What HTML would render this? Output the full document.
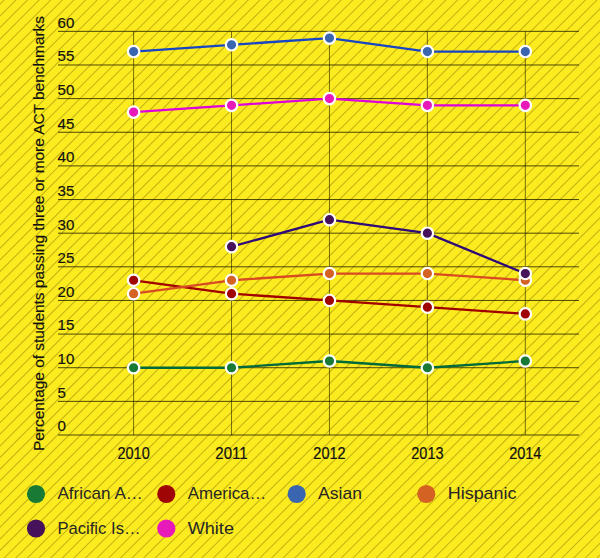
<!DOCTYPE html>
<html><head><meta charset="utf-8"><style>
html,body{margin:0;padding:0;background:#FCEB1F;}
svg{display:block;}
text{font-family:"Liberation Sans",sans-serif;stroke-width:0.2px;paint-order:stroke;}
.k{fill:#111;stroke:#111;}
.l{fill:#262626;stroke:none;}
</style></head><body>
<svg width="600" height="558" viewBox="0 0 600 558">
<rect width="600" height="558" fill="#FCEB1F"/>
<defs><filter id="sb" x="0" y="0" width="1" height="1"><feGaussianBlur stdDeviation="0.4"/></filter></defs>
<path d="M6.30 -2L-555.70 560M17.92 -2L-544.08 560M29.54 -2L-532.46 560M41.17 -2L-520.83 560M52.79 -2L-509.21 560M64.41 -2L-497.59 560M76.03 -2L-485.97 560M87.65 -2L-474.35 560M99.28 -2L-462.72 560M110.90 -2L-451.10 560M122.52 -2L-439.48 560M134.14 -2L-427.86 560M145.76 -2L-416.24 560M157.39 -2L-404.61 560M169.01 -2L-392.99 560M180.63 -2L-381.37 560M192.25 -2L-369.75 560M203.87 -2L-358.13 560M215.50 -2L-346.50 560M227.12 -2L-334.88 560M238.74 -2L-323.26 560M250.36 -2L-311.64 560M261.98 -2L-300.02 560M273.61 -2L-288.39 560M285.23 -2L-276.77 560M296.85 -2L-265.15 560M308.47 -2L-253.53 560M320.09 -2L-241.91 560M331.72 -2L-230.28 560M343.34 -2L-218.66 560M354.96 -2L-207.04 560M366.58 -2L-195.42 560M378.20 -2L-183.80 560M389.83 -2L-172.17 560M401.45 -2L-160.55 560M413.07 -2L-148.93 560M424.69 -2L-137.31 560M436.31 -2L-125.69 560M447.94 -2L-114.06 560M459.56 -2L-102.44 560M471.18 -2L-90.82 560M482.80 -2L-79.20 560M494.42 -2L-67.58 560M506.05 -2L-55.95 560M517.67 -2L-44.33 560M529.29 -2L-32.71 560M540.91 -2L-21.09 560M552.53 -2L-9.47 560M564.16 -2L2.16 560M575.78 -2L13.78 560M587.40 -2L25.40 560M599.02 -2L37.02 560M610.64 -2L48.64 560M622.27 -2L60.27 560M633.89 -2L71.89 560M645.51 -2L83.51 560M657.13 -2L95.13 560M668.75 -2L106.75 560M680.38 -2L118.38 560M692.00 -2L130.00 560M703.62 -2L141.62 560M715.24 -2L153.24 560M726.86 -2L164.86 560M738.49 -2L176.49 560M750.11 -2L188.11 560M761.73 -2L199.73 560M773.35 -2L211.35 560M784.97 -2L222.97 560M796.60 -2L234.60 560M808.22 -2L246.22 560M819.84 -2L257.84 560M831.46 -2L269.46 560M843.08 -2L281.08 560M854.71 -2L292.71 560M866.33 -2L304.33 560M877.95 -2L315.95 560M889.57 -2L327.57 560M901.19 -2L339.19 560M912.82 -2L350.82 560M924.44 -2L362.44 560M936.06 -2L374.06 560M947.68 -2L385.68 560M959.30 -2L397.30 560M970.93 -2L408.93 560M982.55 -2L420.55 560M994.17 -2L432.17 560M1005.79 -2L443.79 560M1017.41 -2L455.41 560M1029.04 -2L467.04 560M1040.66 -2L478.66 560M1052.28 -2L490.28 560M1063.90 -2L501.90 560M1075.52 -2L513.52 560M1087.15 -2L525.15 560M1098.77 -2L536.77 560M1110.39 -2L548.39 560M1122.01 -2L560.01 560M1133.63 -2L571.63 560M1145.26 -2L583.26 560M1156.88 -2L594.88 560" stroke="rgba(120,105,0,0.44)" stroke-width="1.05" fill="none" filter="url(#sb)"/>
<path d="M133.60 31.35V435.00M231.53 31.35V435.00M329.46 31.35V435.00M427.39 31.35V435.00M525.32 31.35V435.00" stroke="rgba(40,35,0,0.62)" stroke-width="1.0" fill="none"/>
<path d="M58 435.00H579M58 401.36H579M58 367.73H579M58 334.09H579M58 300.45H579M58 266.81H579M58 233.18H579M58 199.54H579M58 165.90H579M58 132.26H579M58 98.62H579M58 64.99H579M58 31.35H579" stroke="rgba(25,22,0,0.76)" stroke-width="1.0" fill="none"/>
<text x="57.6" y="431.3" font-size="15.5" class="k" textLength="8.4" lengthAdjust="spacingAndGlyphs">0</text>
<text x="57.6" y="397.7" font-size="15.5" class="k" textLength="8.4" lengthAdjust="spacingAndGlyphs">5</text>
<text x="57.6" y="364.0" font-size="15.5" class="k" textLength="16.8" lengthAdjust="spacingAndGlyphs">10</text>
<text x="57.6" y="330.4" font-size="15.5" class="k" textLength="16.8" lengthAdjust="spacingAndGlyphs">15</text>
<text x="57.6" y="296.8" font-size="15.5" class="k" textLength="16.8" lengthAdjust="spacingAndGlyphs">20</text>
<text x="57.6" y="263.1" font-size="15.5" class="k" textLength="16.8" lengthAdjust="spacingAndGlyphs">25</text>
<text x="57.6" y="229.5" font-size="15.5" class="k" textLength="16.8" lengthAdjust="spacingAndGlyphs">30</text>
<text x="57.6" y="195.8" font-size="15.5" class="k" textLength="16.8" lengthAdjust="spacingAndGlyphs">35</text>
<text x="57.6" y="162.2" font-size="15.5" class="k" textLength="16.8" lengthAdjust="spacingAndGlyphs">40</text>
<text x="57.6" y="128.6" font-size="15.5" class="k" textLength="16.8" lengthAdjust="spacingAndGlyphs">45</text>
<text x="57.6" y="94.9" font-size="15.5" class="k" textLength="16.8" lengthAdjust="spacingAndGlyphs">50</text>
<text x="57.6" y="61.3" font-size="15.5" class="k" textLength="16.8" lengthAdjust="spacingAndGlyphs">55</text>
<text x="57.6" y="27.7" font-size="15.5" class="k" textLength="16.8" lengthAdjust="spacingAndGlyphs">60</text>
<text x="133.6" y="458.6" font-size="15.8" class="k" text-anchor="middle" textLength="32.3" lengthAdjust="spacingAndGlyphs">2010</text>
<text x="231.5" y="458.6" font-size="15.8" class="k" text-anchor="middle" textLength="32.3" lengthAdjust="spacingAndGlyphs">2011</text>
<text x="329.5" y="458.6" font-size="15.8" class="k" text-anchor="middle" textLength="32.3" lengthAdjust="spacingAndGlyphs">2012</text>
<text x="427.4" y="458.6" font-size="15.8" class="k" text-anchor="middle" textLength="32.3" lengthAdjust="spacingAndGlyphs">2013</text>
<text x="525.3" y="458.6" font-size="15.8" class="k" text-anchor="middle" textLength="32.3" lengthAdjust="spacingAndGlyphs">2014</text>
<text transform="translate(43.6,233.5) rotate(-90)" font-size="15.5" class="k" text-anchor="middle" textLength="435" lengthAdjust="spacingAndGlyphs">Percentage of students passing three or more ACT benchmarks</text>
<path d="M133.60 367.73L231.53 367.73L329.46 361.00L427.39 367.73L525.32 361.00" stroke="#006A3A" stroke-width="2.3" fill="none" stroke-linejoin="round"/>
<circle cx="133.60" cy="367.73" r="5.7" fill="#187A34" stroke="#fff" stroke-width="2.2"/>
<circle cx="231.53" cy="367.73" r="5.7" fill="#187A34" stroke="#fff" stroke-width="2.2"/>
<circle cx="329.46" cy="361.00" r="5.7" fill="#187A34" stroke="#fff" stroke-width="2.2"/>
<circle cx="427.39" cy="367.73" r="5.7" fill="#187A34" stroke="#fff" stroke-width="2.2"/>
<circle cx="525.32" cy="361.00" r="5.7" fill="#187A34" stroke="#fff" stroke-width="2.2"/>
<path d="M133.60 280.27L231.53 293.72L329.46 300.45L427.39 307.18L525.32 313.90" stroke="#A00000" stroke-width="2.3" fill="none" stroke-linejoin="round"/>
<circle cx="133.60" cy="280.27" r="5.7" fill="#A00505" stroke="#fff" stroke-width="2.2"/>
<circle cx="231.53" cy="293.72" r="5.7" fill="#A00505" stroke="#fff" stroke-width="2.2"/>
<circle cx="329.46" cy="300.45" r="5.7" fill="#A00505" stroke="#fff" stroke-width="2.2"/>
<circle cx="427.39" cy="307.18" r="5.7" fill="#A00505" stroke="#fff" stroke-width="2.2"/>
<circle cx="525.32" cy="313.90" r="5.7" fill="#A00505" stroke="#fff" stroke-width="2.2"/>
<path d="M133.60 51.53L231.53 44.81L329.46 38.08L427.39 51.53L525.32 51.53" stroke="#1845C4" stroke-width="2.3" fill="none" stroke-linejoin="round"/>
<circle cx="133.60" cy="51.53" r="5.7" fill="#3966AF" stroke="#fff" stroke-width="2.2"/>
<circle cx="231.53" cy="44.81" r="5.7" fill="#3966AF" stroke="#fff" stroke-width="2.2"/>
<circle cx="329.46" cy="38.08" r="5.7" fill="#3966AF" stroke="#fff" stroke-width="2.2"/>
<circle cx="427.39" cy="51.53" r="5.7" fill="#3966AF" stroke="#fff" stroke-width="2.2"/>
<circle cx="525.32" cy="51.53" r="5.7" fill="#3966AF" stroke="#fff" stroke-width="2.2"/>
<path d="M133.60 293.72L231.53 280.27L329.46 273.54L427.39 273.54L525.32 280.27" stroke="#D84A22" stroke-width="2.3" fill="none" stroke-linejoin="round"/>
<circle cx="133.60" cy="293.72" r="5.7" fill="#D46222" stroke="#fff" stroke-width="2.2"/>
<circle cx="231.53" cy="280.27" r="5.7" fill="#D46222" stroke="#fff" stroke-width="2.2"/>
<circle cx="329.46" cy="273.54" r="5.7" fill="#D46222" stroke="#fff" stroke-width="2.2"/>
<circle cx="427.39" cy="273.54" r="5.7" fill="#D46222" stroke="#fff" stroke-width="2.2"/>
<circle cx="525.32" cy="280.27" r="5.7" fill="#D46222" stroke="#fff" stroke-width="2.2"/>
<path d="M231.53 246.63L329.46 219.72L427.39 233.18L525.32 273.54" stroke="#2E0A78" stroke-width="2.3" fill="none" stroke-linejoin="round"/>
<circle cx="231.53" cy="246.63" r="5.7" fill="#46125A" stroke="#fff" stroke-width="2.2"/>
<circle cx="329.46" cy="219.72" r="5.7" fill="#46125A" stroke="#fff" stroke-width="2.2"/>
<circle cx="427.39" cy="233.18" r="5.7" fill="#46125A" stroke="#fff" stroke-width="2.2"/>
<circle cx="525.32" cy="273.54" r="5.7" fill="#46125A" stroke="#fff" stroke-width="2.2"/>
<path d="M133.60 112.08L231.53 105.35L329.46 98.62L427.39 105.35L525.32 105.35" stroke="#E000DC" stroke-width="2.3" fill="none" stroke-linejoin="round"/>
<circle cx="133.60" cy="112.08" r="5.7" fill="#E819B9" stroke="#fff" stroke-width="2.2"/>
<circle cx="231.53" cy="105.35" r="5.7" fill="#E819B9" stroke="#fff" stroke-width="2.2"/>
<circle cx="329.46" cy="98.62" r="5.7" fill="#E819B9" stroke="#fff" stroke-width="2.2"/>
<circle cx="427.39" cy="105.35" r="5.7" fill="#E819B9" stroke="#fff" stroke-width="2.2"/>
<circle cx="525.32" cy="105.35" r="5.7" fill="#E819B9" stroke="#fff" stroke-width="2.2"/>
<circle cx="36" cy="494" r="9.1" fill="#187A34"/>
<text x="57.4" y="499.3" font-size="17" class="l" textLength="85.55" lengthAdjust="spacingAndGlyphs">African A…</text>
<circle cx="166.3" cy="494" r="9.1" fill="#A00505"/>
<text x="187.7" y="499.3" font-size="17" class="l" textLength="78.6" lengthAdjust="spacingAndGlyphs">America…</text>
<circle cx="296.7" cy="494" r="9.1" fill="#3966AF"/>
<text x="318.1" y="499.3" font-size="17" class="l" textLength="43.83" lengthAdjust="spacingAndGlyphs">Asian</text>
<circle cx="426.3" cy="494" r="9.1" fill="#D46222"/>
<text x="447.7" y="499.3" font-size="17" class="l" textLength="68.9" lengthAdjust="spacingAndGlyphs">Hispanic</text>
<circle cx="36" cy="528.5" r="9.1" fill="#46125A"/>
<text x="57.4" y="534.2" font-size="17" class="l" textLength="83.2" lengthAdjust="spacingAndGlyphs">Pacific Is…</text>
<circle cx="166.3" cy="528.5" r="9.1" fill="#E819B9"/>
<text x="187.7" y="534.2" font-size="17" class="l" textLength="46.27" lengthAdjust="spacingAndGlyphs">White</text>
</svg></body></html>
